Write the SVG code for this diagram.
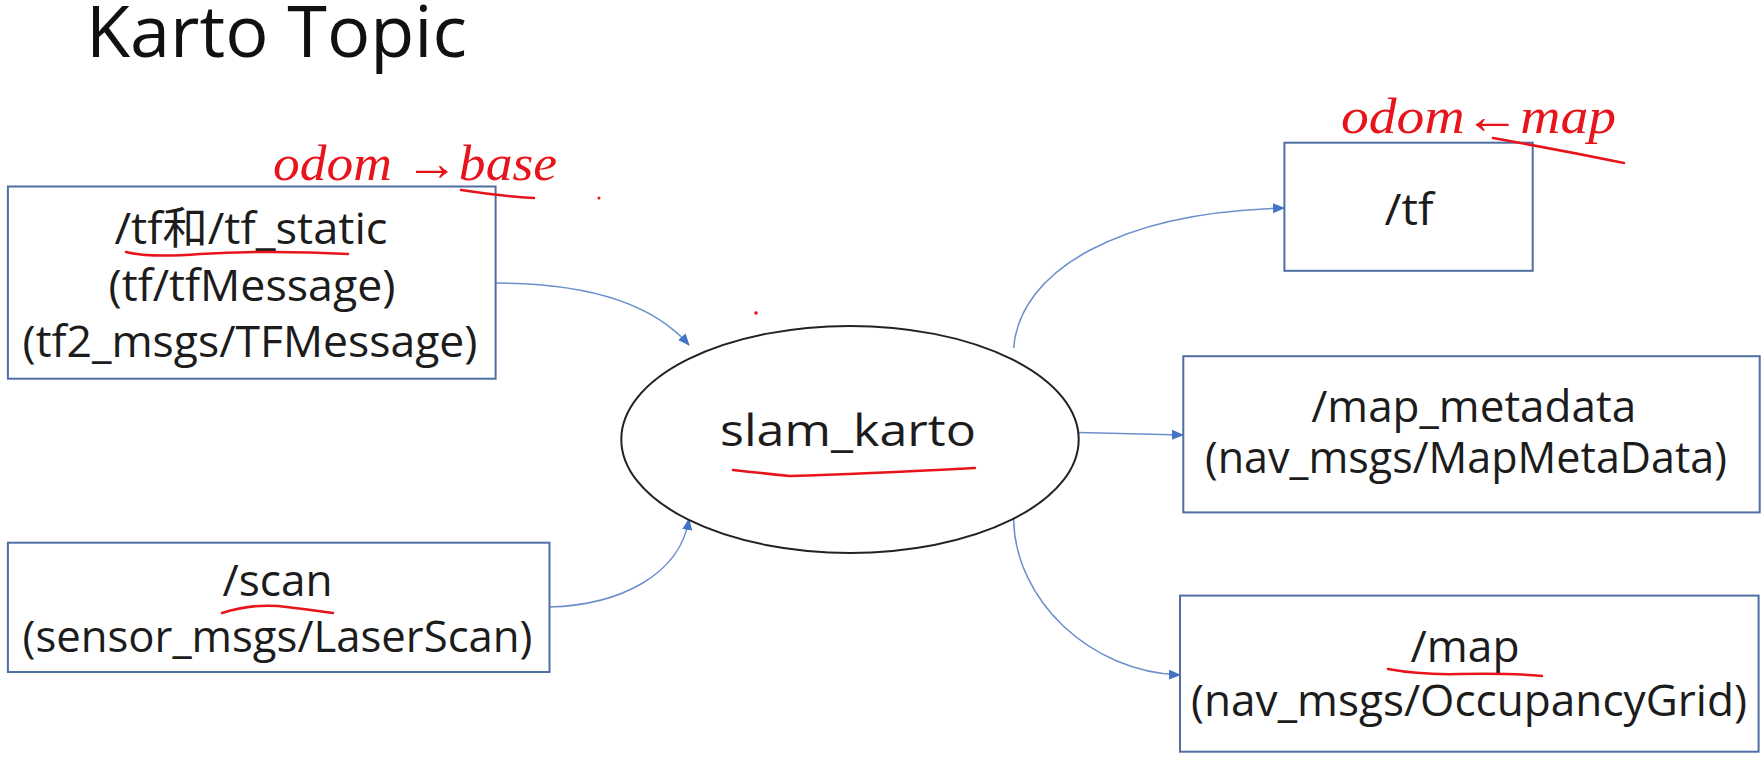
<svg xmlns="http://www.w3.org/2000/svg" width="1762" height="772" viewBox="0 0 1762 772">
<defs>
<marker id="arr" markerWidth="12" markerHeight="10" refX="11" refY="5" orient="auto" markerUnits="userSpaceOnUse">
<path d="M0,0 L12,5 L0,10 Z" fill="#4472C4"/>
</marker>
<style>
.box{fill:#ffffff;stroke:#4F6FA3;stroke-width:2}
.ell{fill:#ffffff;stroke:#222222;stroke-width:2}
.t{font-family:"Open Sans","Noto Sans CJK SC",sans-serif;font-size:44px;fill:#1c1c1c;text-anchor:middle}
.title{font-family:"Open Sans","Noto Sans CJK SC",sans-serif;font-size:72px;fill:#111111}
.con{fill:none;stroke:#6B8FCC;stroke-width:1.5;marker-end:url(#arr)}
.ink{fill:none;stroke:#E8141B;stroke-width:2.5;stroke-linecap:round;stroke-linejoin:round}
.hand{font-family:"Liberation Serif",serif;font-style:italic;font-size:50px;fill:#E8141B}
</style>
</defs>
<rect width="1762" height="772" fill="#ffffff"/>
<text class="title" x="86" y="57" textLength="381" lengthAdjust="spacingAndGlyphs">Karto Topic</text>

<g id="connectors">
<path class="con" d="M495.6,283 C580,283 650,300 689,345"/>
<path class="con" d="M549.5,607 C620,605 680,575 689,519"/>
<path class="con" d="M1013.6,348 C1020,270 1120,212 1284,208"/>
<path class="con" d="M1078.8,432.6 L1183,435"/>
<path class="con" d="M1013.6,519 C1015,600 1090,672 1180,675"/>
</g>

<g id="node-tf-in">
<rect class="box" x="7.9" y="186.5" width="487.7" height="192.2"/>
<text class="t" x="251" y="244" textLength="273" lengthAdjust="spacingAndGlyphs">/tf和/tf_static</text>
<text class="t" x="252" y="301" textLength="287" lengthAdjust="spacingAndGlyphs">(tf/tfMessage)</text>
<text class="t" x="250" y="357" textLength="455" lengthAdjust="spacingAndGlyphs">(tf2_msgs/TFMessage)</text>
</g>

<g id="node-scan">
<rect class="box" x="7.9" y="542.7" width="541.6" height="129.3"/>
<text class="t" x="277.5" y="596" textLength="110" lengthAdjust="spacingAndGlyphs">/scan</text>
<text class="t" x="277.5" y="652" textLength="510" lengthAdjust="spacingAndGlyphs">(sensor_msgs/LaserScan)</text>
</g>

<g id="node-slam">
<ellipse class="ell" cx="850" cy="439.4" rx="228.7" ry="113.5"/>
<text class="t" x="848" y="446" font-size="46" textLength="256" lengthAdjust="spacingAndGlyphs">slam_karto</text>
</g>

<g id="node-tf-out">
<rect class="box" x="1284.4" y="142.7" width="248.3" height="128.1"/>
<text class="t" x="1409" y="225" textLength="49" lengthAdjust="spacingAndGlyphs">/tf</text>
</g>

<g id="node-map-metadata">
<rect class="box" x="1183.3" y="356.2" width="576.4" height="156.2"/>
<text class="t" x="1473.7" y="422" font-size="43" textLength="325" lengthAdjust="spacingAndGlyphs">/map_metadata</text>
<text class="t" x="1466" y="473" font-size="43" textLength="522" lengthAdjust="spacingAndGlyphs">(nav_msgs/MapMetaData)</text>
</g>

<g id="node-map">
<rect class="box" x="1180" y="595.6" width="578.6" height="156.1"/>
<text class="t" x="1465" y="662" font-size="43" textLength="109" lengthAdjust="spacingAndGlyphs">/map</text>
<text class="t" x="1469" y="716" font-size="43" textLength="556" lengthAdjust="spacingAndGlyphs">(nav_msgs/OccupancyGrid)</text>
</g>

<g id="annotations">
<text class="hand" x="273" y="180" textLength="284" lengthAdjust="spacingAndGlyphs">odom →base</text>
<text class="hand" x="1341" y="133" font-size="48" textLength="275" lengthAdjust="spacingAndGlyphs">odom←map</text>
<path class="ink" d="M461,190 Q500,196 534,198"/>
<path class="ink" d="M126,252 Q150,258 200,254 Q270,250 348,254"/>
<path class="ink" d="M222,613 Q250,604 278,606 Q305,609 333,613"/>
<path class="ink" d="M733,470 Q760,473 790,476 Q860,474 975,468"/>
<path class="ink" d="M1388,669 Q1420,675 1460,674 Q1510,673 1542,676"/>
<path class="ink" d="M1493,138 Q1560,150 1624,163"/>
<circle cx="599" cy="198" r="1.5" fill="#E8141B"/>
<circle cx="756" cy="313" r="1.8" fill="#E8141B"/>
</g>
</svg>
